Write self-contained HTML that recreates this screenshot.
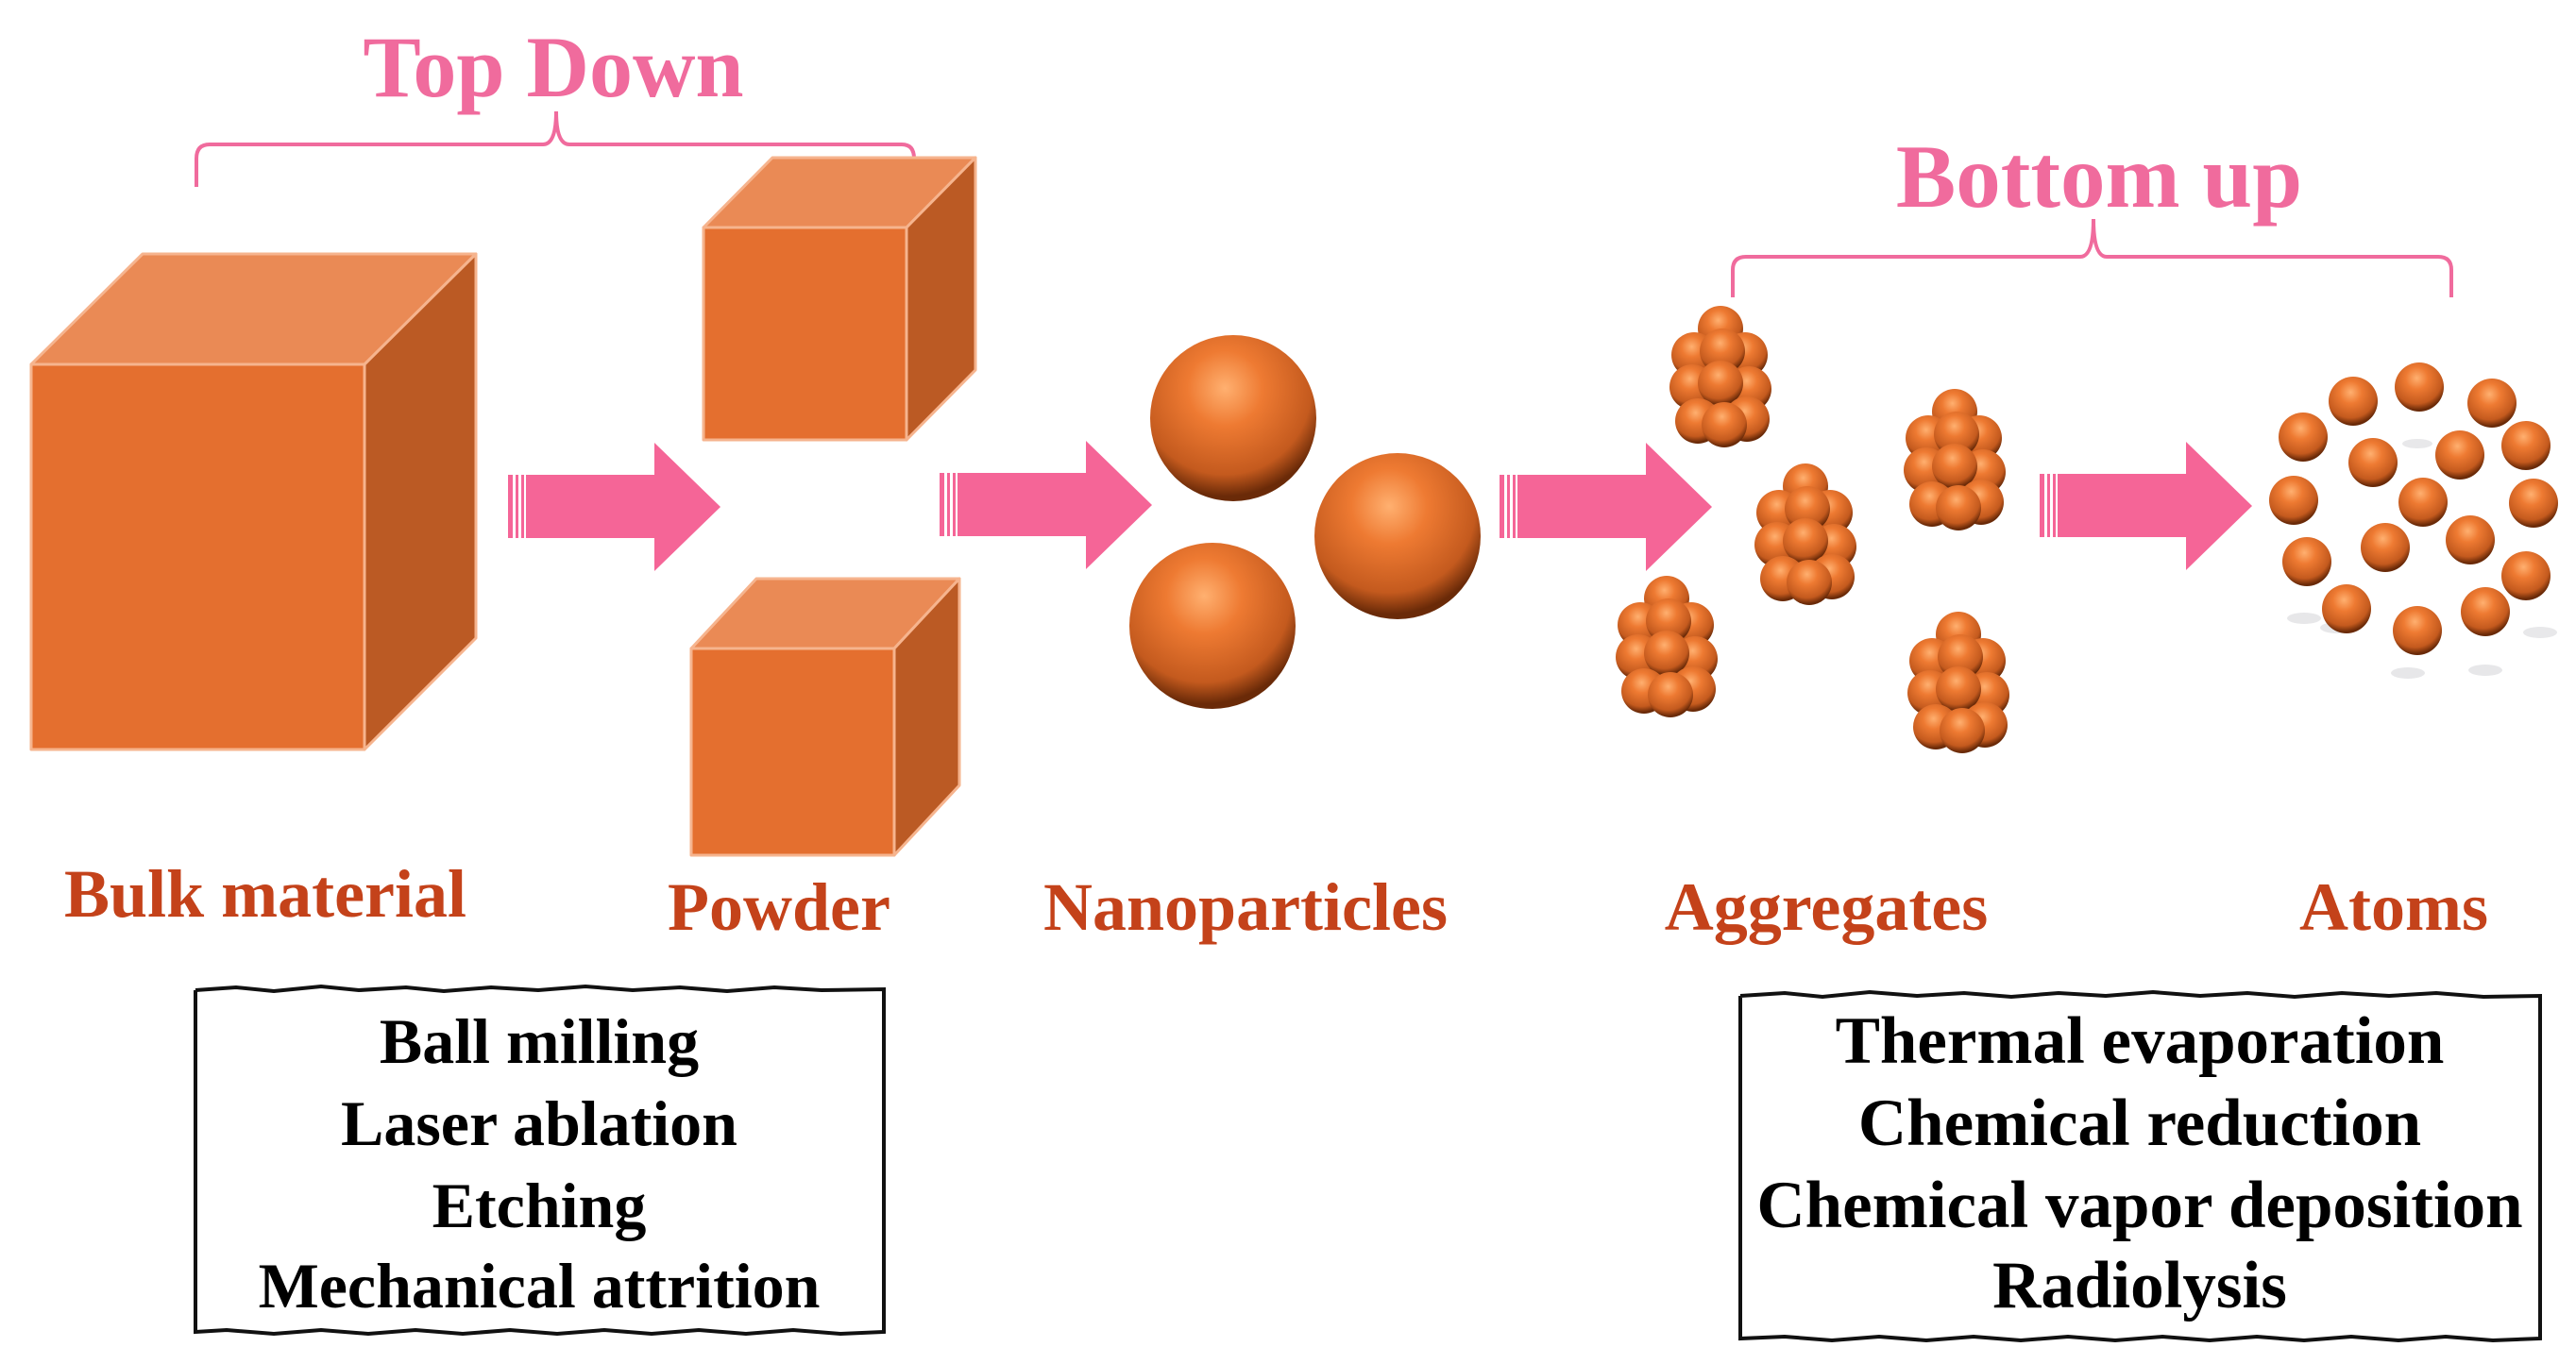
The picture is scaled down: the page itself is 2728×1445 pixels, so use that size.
<!DOCTYPE html>
<html><head><meta charset="utf-8"><style>
html,body{margin:0;padding:0;background:#fff;}
svg{display:block;}
text{font-family:"Liberation Serif",serif;font-weight:bold;}
</style></head><body>
<svg width="2728" height="1445" viewBox="0 0 2728 1445" xmlns="http://www.w3.org/2000/svg">
<defs>
<radialGradient id="sph" cx="0.45" cy="0.32" r="0.65">
<stop offset="0" stop-color="#ffb070"/>
<stop offset="0.35" stop-color="#ee7a32"/>
<stop offset="0.8" stop-color="#c45a1e"/>
<stop offset="1" stop-color="#6a2a08"/>
</radialGradient>
<g id="cl">
<circle cx="0" cy="-52" r="24" fill="url(#sph)"/>
<circle cx="26" cy="-24" r="24" fill="url(#sph)"/>
<circle cx="-28" cy="-24" r="24" fill="url(#sph)"/>
<circle cx="2" cy="-28" r="24" fill="url(#sph)"/>
<circle cx="30" cy="12" r="24" fill="url(#sph)"/>
<circle cx="-30" cy="10" r="24" fill="url(#sph)"/>
<circle cx="0" cy="6" r="24" fill="url(#sph)"/>
<circle cx="28" cy="44" r="24" fill="url(#sph)"/>
<circle cx="-24" cy="46" r="24" fill="url(#sph)"/>
<circle cx="4" cy="50" r="24" fill="url(#sph)"/>
</g>
<g id="arr">
<rect x="0" y="34" width="160" height="67" fill="#f56597"/>
<polygon points="155,0 225,68 155,136" fill="#f56597"/>
<rect x="5" y="34" width="3" height="67" fill="#fff"/>
<rect x="11" y="34" width="3" height="67" fill="#fff"/>
<rect x="17" y="34" width="2" height="67" fill="#fff"/>
</g>
</defs>

<text x="586" y="102" font-size="92" fill="#f06b9d" text-anchor="middle">Top Down</text>
<text x="2223" y="219" font-size="95" fill="#f06b9d" text-anchor="middle">Bottom up</text>
<path d="M208 198 V168 Q208 153 222 153 H575 Q589 153 589 118 Q589 153 603 153 H955 Q968 153 968 168 V205" fill="none" stroke="#f06b9d" stroke-width="4"/>
<path d="M1835 315 V286 Q1835 272 1849 272 H2203 Q2217 272 2217 232 Q2217 272 2231 272 H2582 Q2596 272 2596 286 V315" fill="none" stroke="#f06b9d" stroke-width="4"/>

<g stroke="#f6b48e" stroke-width="3" stroke-linejoin="round">
<polygon points="33,386 151,269 504,269 386,386" fill="#ea8a55"/>
<polygon points="386,386 504,269 504,676 386,794" fill="#bb5a24"/>
<rect x="33" y="386" width="353" height="408" fill="#e46f2f"/>
<polygon points="745,241 818,167 1033,167 960,241" fill="#ea8a55"/>
<polygon points="960,241 1033,167 1033,392 960,466" fill="#bb5a24"/>
<rect x="745" y="241" width="215" height="225" fill="#e46f2f"/>
<polygon points="732,687 801,613 1016,613 947,687" fill="#ea8a55"/>
<polygon points="947,687 1016,613 1016,832 947,906" fill="#bb5a24"/>
<rect x="732" y="687" width="215" height="219" fill="#e46f2f"/>
</g>

<use href="#arr" x="538" y="469"/>
<use href="#arr" x="995" y="467"/>
<use href="#arr" x="1588" y="469"/>
<use href="#arr" x="2160" y="468"/>

<circle cx="1306" cy="443" r="88" fill="url(#sph)"/>
<circle cx="1480" cy="568" r="88" fill="url(#sph)"/>
<circle cx="1284" cy="663" r="88" fill="url(#sph)"/>

<use href="#cl" x="1822" y="400"/>
<use href="#cl" x="1912" y="567"/>
<use href="#cl" x="2070" y="488"/>
<use href="#cl" x="1765" y="686"/>
<use href="#cl" x="2074" y="724"/>

<g fill="#d8d8dc" opacity="0.6">
<ellipse cx="2475" cy="665" rx="18" ry="6"/><ellipse cx="2550" cy="713" rx="18" ry="6"/>
<ellipse cx="2632" cy="710" rx="18" ry="6"/><ellipse cx="2690" cy="670" rx="18" ry="6"/>
<ellipse cx="2440" cy="655" rx="18" ry="6"/><ellipse cx="2560" cy="470" rx="16" ry="5"/>
</g>
<g fill="url(#sph)">
<circle cx="2492" cy="425" r="26"/><circle cx="2562" cy="410" r="26"/><circle cx="2639" cy="427" r="26"/>
<circle cx="2439" cy="463" r="26"/><circle cx="2513" cy="490" r="26"/><circle cx="2605" cy="482" r="26"/><circle cx="2675" cy="472" r="26"/>
<circle cx="2429" cy="530" r="26"/><circle cx="2566" cy="532" r="26"/><circle cx="2683" cy="533" r="26"/>
<circle cx="2443" cy="595" r="26"/><circle cx="2526" cy="580" r="26"/><circle cx="2616" cy="572" r="26"/><circle cx="2675" cy="610" r="26"/>
<circle cx="2485" cy="645" r="26"/><circle cx="2560" cy="668" r="26"/><circle cx="2632" cy="648" r="26"/>
</g>

<g fill="#c4421a" font-size="72" text-anchor="middle">
<text x="281" y="971">Bulk material</text>
<text x="825" y="985">Powder</text>
<text x="1319" y="985">Nanoparticles</text>
<text x="1934" y="985">Aggregates</text>
<text x="2535" y="985">Atoms</text>
</g>

<polyline points="207,1049 250,1046 290,1050 340,1045 380,1049 430,1046 470,1050 520,1046 570,1049 620,1045 670,1049 720,1046 770,1050 820,1046 870,1049 936,1048 936,1411 890,1413 840,1409 790,1413 740,1409 690,1413 640,1409 590,1413 540,1409 490,1413 440,1409 390,1413 340,1409 290,1413 240,1409 207,1411 207,1049" fill="none" stroke="#111" stroke-width="4"/>
<polyline points="1843,1055 1890,1052 1930,1056 1980,1051 2030,1055 2080,1052 2130,1056 2180,1052 2230,1055 2280,1051 2330,1055 2380,1052 2430,1056 2480,1052 2530,1055 2580,1052 2630,1056 2690,1055 2690,1418 2640,1420 2590,1416 2540,1420 2490,1416 2440,1420 2390,1416 2340,1420 2290,1416 2240,1420 2190,1416 2140,1420 2090,1416 2040,1420 1990,1416 1940,1420 1890,1416 1843,1418 1843,1055" fill="none" stroke="#111" stroke-width="4"/>
<g fill="#000" font-size="68" text-anchor="middle">
<text x="571" y="1126">Ball milling</text>
<text x="571" y="1213">Laser ablation</text>
<text x="571" y="1300">Etching</text>
<text x="571" y="1385">Mechanical attrition</text>
</g>
<g fill="#000" font-size="71" text-anchor="middle">
<text x="2266" y="1126">Thermal evaporation</text>
<text x="2266" y="1213">Chemical reduction</text>
<text x="2266" y="1300">Chemical vapor deposition</text>
<text x="2266" y="1385">Radiolysis</text>
</g>
</svg>
</body></html>
